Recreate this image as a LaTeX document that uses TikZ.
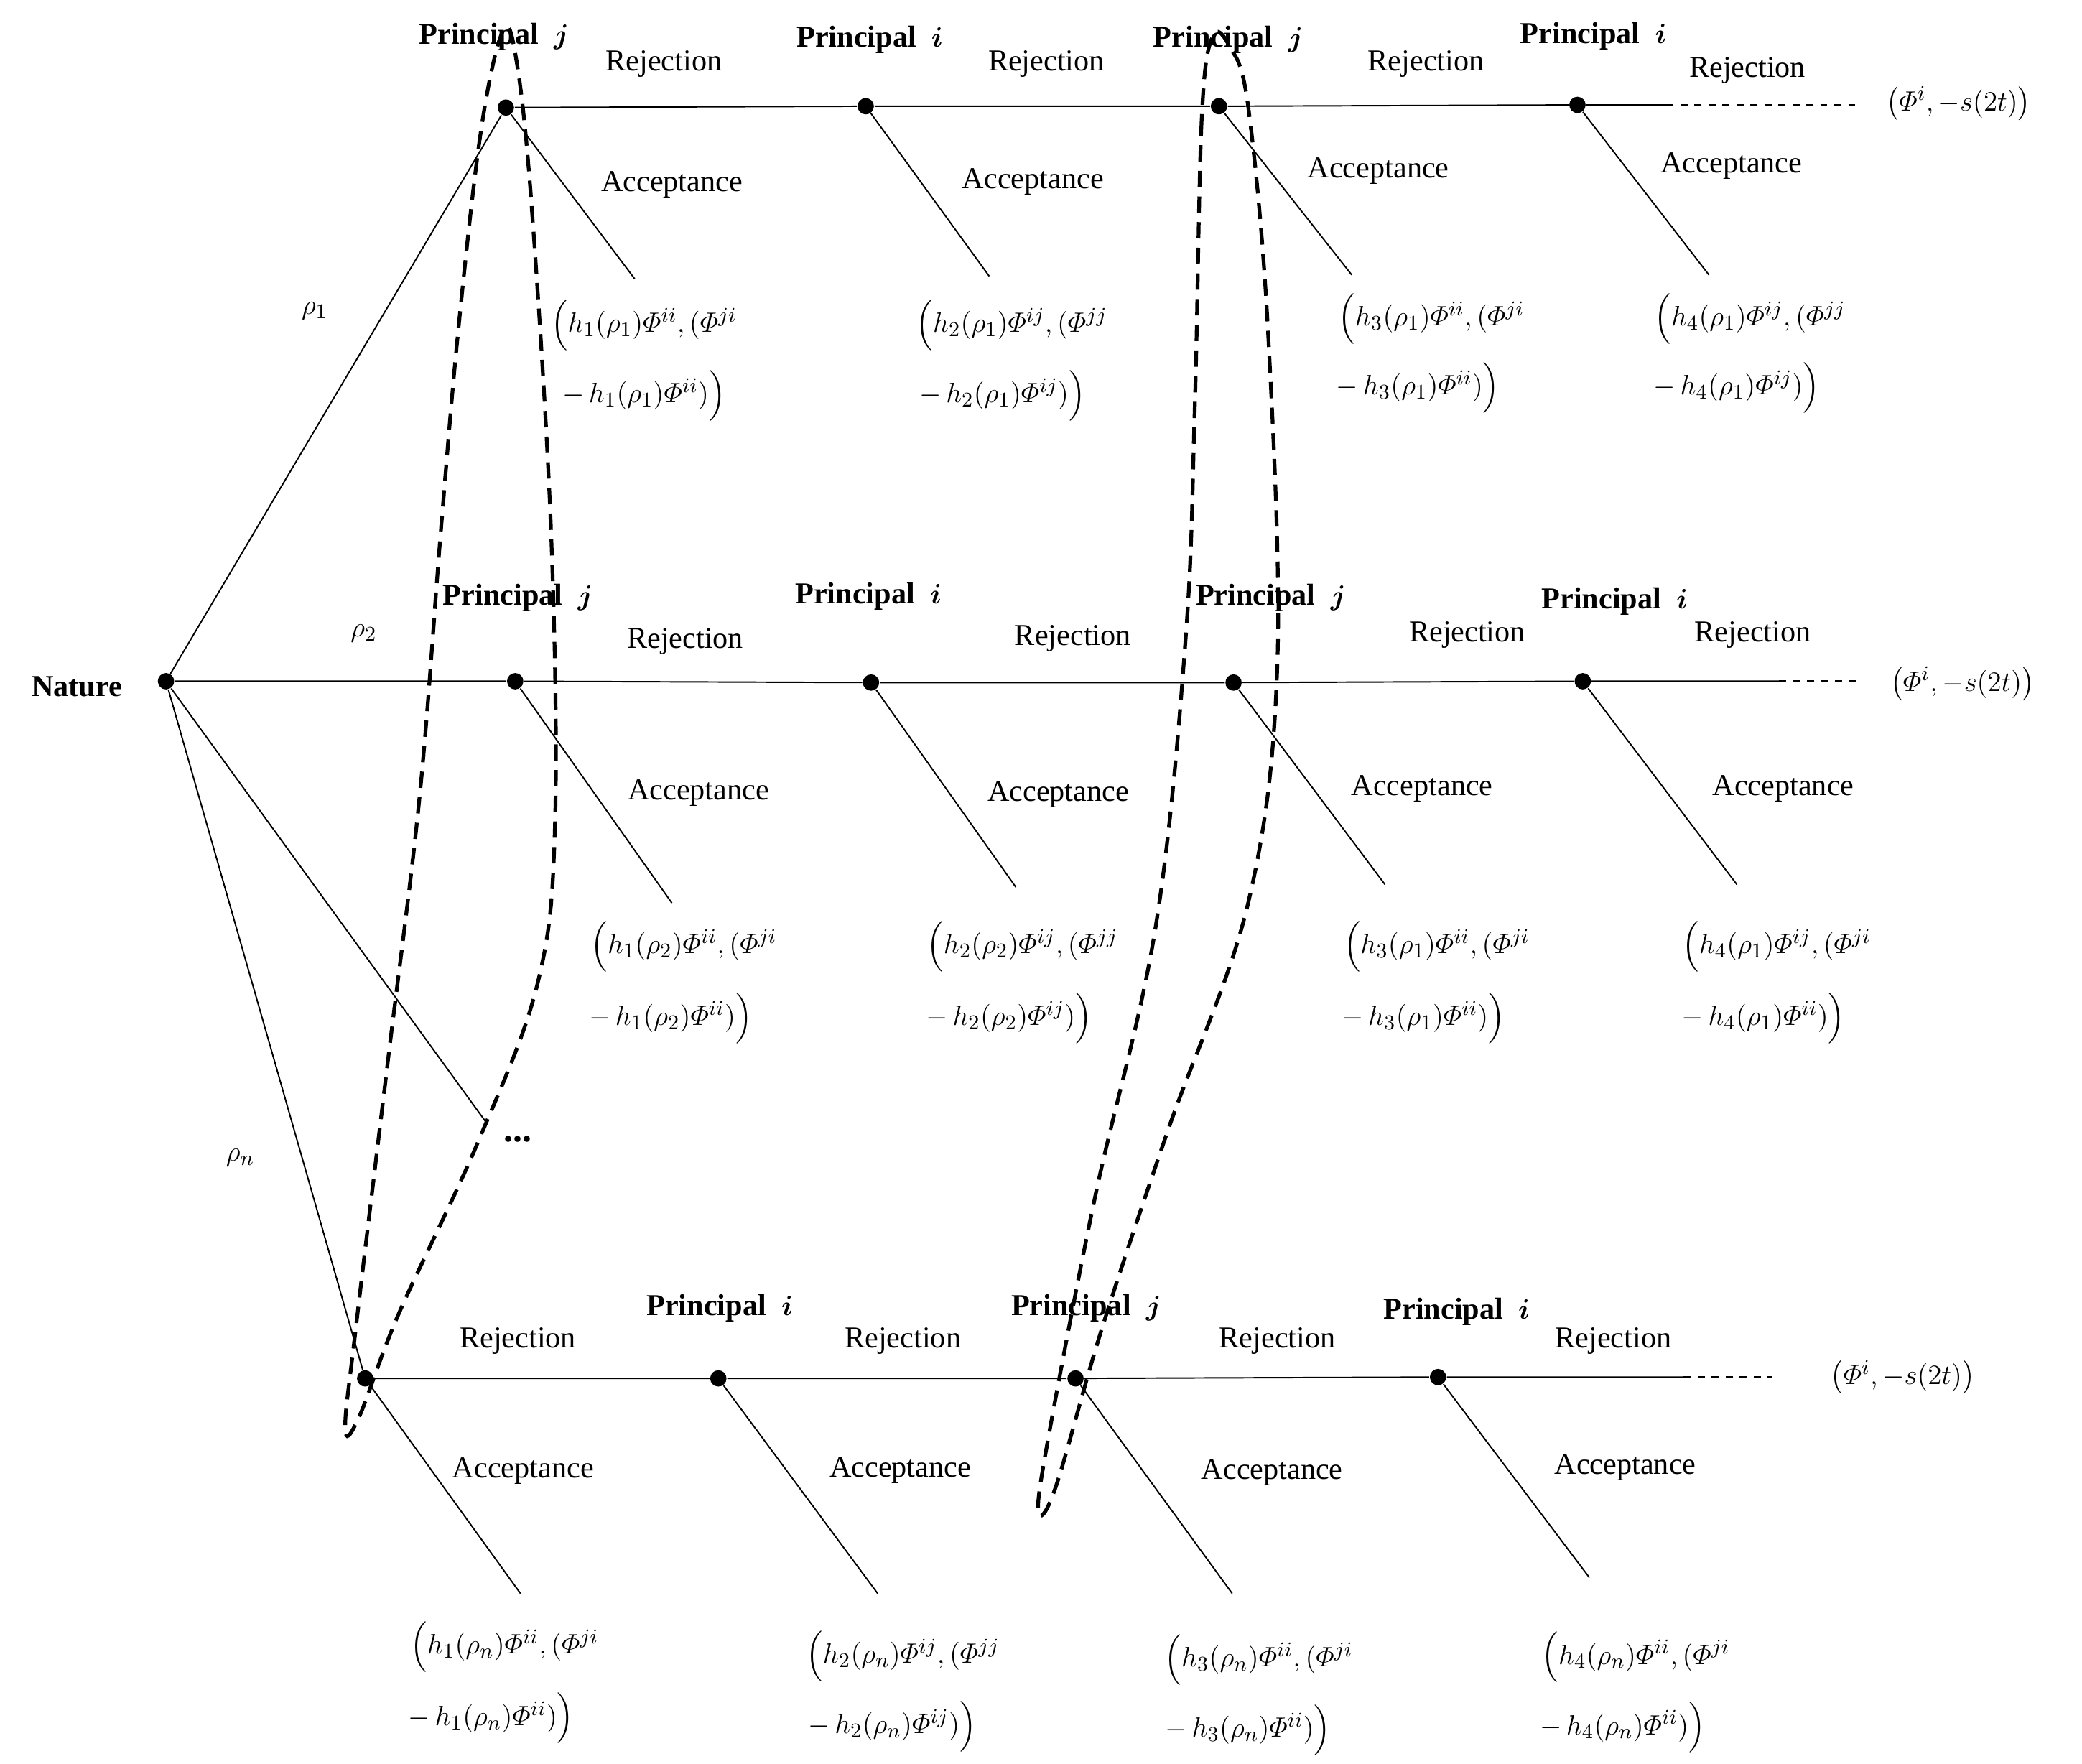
\documentclass[tikz,border=0pt]{standalone}
\usepackage{amsmath,bm}
\usepackage{fontspec}
\setmainfont{Liberation Serif}
\begin{document}
\begin{tikzpicture}[x=0.02cm,y=-0.02cm,line width=0.6pt,
  dot/.style={circle,fill=black,inner sep=0pt,minimum size=7pt},
  lab/.style={font=\fontsize{13}{15}\selectfont},
  pl/.style={font=\fontsize{13}{15}\selectfont\bfseries},
  pay/.style={font=\fontsize{13}{15}\selectfont},
  info/.style={line width=1.6pt,dash pattern=on 7pt off 4pt}]
\useasboundingbox (0,0) rectangle (1568,1328);
\newcommand{\PrJ}{Principal\ \ $\bm{j}$}
\newcommand{\PrI}{Principal\ \ $\bm{i}$}
\newcommand{\F}{\varPhi}
% Nature
\node[dot] (N) at (125,513) {};
\node[pl] at (58,517) {Nature};
% Row 1
\node[dot] (a1) at (381,81) {};
\node[dot] (a2) at (652,80) {};
\node[dot] (a3) at (918,80) {};
\node[dot] (a4) at (1188,79) {};
\coordinate (a5) at (1255,79); \coordinate (a6) at (1400,79);
\draw (N) -- (a1) -- (a2) -- (a3) -- (a4) -- (a5);
\draw[dashed] (a5) -- (a6);
\node[lab] at (237,234) {$\rho_1$};
\coordinate (e11) at (478,210); \coordinate (e12) at (745,208);
\coordinate (e13) at (1018,207); \coordinate (e14) at (1287,207);
\draw (a1)--(e11) (a2)--(e12) (a3)--(e13) (a4)--(e14);
\node[pl] at (372,28) {\PrJ}; \node[lab] at (500,48) {Rejection}; \node[lab] at (506,139) {Acceptance};
\node[pl] at (655,30) {\PrI}; \node[lab] at (788,48) {Rejection}; \node[lab] at (778,137) {Acceptance};
\node[pl] at (925,30) {\PrJ}; \node[lab] at (1074,48) {Rejection}; \node[lab] at (1038,129) {Acceptance};
\node[pl] at (1200,27) {\PrI}; \node[lab] at (1316,53) {Rejection}; \node[lab] at (1304,125) {Acceptance};
\node[pay] at (1475,78) {$\bigl(\F^i,-s(2t)\bigr)$};
\node[pay] at (485,245) {$\Bigl(h_1(\rho_1)\F^{ii},(\F^{ji}$};
\node[pay] at (485,298) {$-\,h_1(\rho_1)\F^{ii})\Bigr)$};
\node[pay] at (762,245) {$\Bigl(h_2(\rho_1)\F^{ij},(\F^{jj}$};
\node[pay] at (755,298) {$-\,h_2(\rho_1)\F^{ij})\Bigr)$};
\node[pay] at (1078,240) {$\Bigl(h_3(\rho_1)\F^{ii},(\F^{ji}$};
\node[pay] at (1068,292) {$-\,h_3(\rho_1)\F^{ii})\Bigr)$};
\node[pay] at (1318,240) {$\Bigl(h_4(\rho_1)\F^{ij},(\F^{jj}$};
\node[pay] at (1308,292) {$-\,h_4(\rho_1)\F^{ij})\Bigr)$};
% Row 2
\node[dot] (b1) at (388,513) {};
\node[dot] (b2) at (656,514) {};
\node[dot] (b3) at (929,514) {};
\node[dot] (b4) at (1192,513) {};
\coordinate (b5) at (1340,513); \coordinate (b6) at (1400,513);
\draw (N) -- (b1) -- (b2) -- (b3) -- (b4) -- (b5);
\draw[dashed] (b5) -- (b6);
\node[lab] at (274,477) {$\rho_2$};
\coordinate (e21) at (506,680); \coordinate (e22) at (765,668);
\coordinate (e23) at (1043,666); \coordinate (e24) at (1308,666);
\draw (b1)--(e21) (b2)--(e22) (b3)--(e23) (b4)--(e24);
\node[pl] at (390,450) {\PrJ}; \node[lab] at (516,483) {Rejection}; \node[lab] at (526,597) {Acceptance};
\node[pl] at (654,449) {\PrI}; \node[lab] at (808,481) {Rejection}; \node[lab] at (797,598) {Acceptance};
\node[pl] at (957,450) {\PrJ}; \node[lab] at (1105,478) {Rejection}; \node[lab] at (1071,594) {Acceptance};
\node[pl] at (1216,453) {\PrI}; \node[lab] at (1320,478) {Rejection}; \node[lab] at (1343,594) {Acceptance};
\node[pay] at (1478,515) {$\bigl(\F^i,-s(2t)\bigr)$};
\node[pay] at (515,713) {$\Bigl(h_1(\rho_2)\F^{ii},(\F^{ji}$};
\node[pay] at (505,767) {$-\,h_1(\rho_2)\F^{ii})\Bigr)$};
\node[pay] at (770,713) {$\Bigl(h_2(\rho_2)\F^{ij},(\F^{jj}$};
\node[pay] at (760,767) {$-\,h_2(\rho_2)\F^{ij})\Bigr)$};
\node[pay] at (1082,713) {$\Bigl(h_3(\rho_1)\F^{ii},(\F^{ji}$};
\node[pay] at (1072,767) {$-\,h_3(\rho_1)\F^{ii})\Bigr)$};
\node[pay] at (1338,713) {$\Bigl(h_4(\rho_1)\F^{ij},(\F^{ji}$};
\node[pay] at (1328,767) {$-\,h_4(\rho_1)\F^{ii})\Bigr)$};
% dots branch
\coordinate (d) at (366,845);
\draw (N) -- (d);
\node[font=\bfseries\fontsize{16}{16}\selectfont] at (390,858) {...};
% Row 3
\node[lab] at (181,872) {$\rho_n$};
\node[dot] (c1) at (275,1038) {};
\node[dot] (c2) at (541,1038) {};
\node[dot] (c3) at (810,1038) {};
\node[dot] (c4) at (1083,1037) {};
\coordinate (c5) at (1268,1037); \coordinate (c6) at (1335,1037);
\draw (N) -- (c1) -- (c2) -- (c3) -- (c4) -- (c5);
\draw[dashed] (c5) -- (c6);
\coordinate (e31) at (392,1200); \coordinate (e32) at (661,1200);
\coordinate (e33) at (928,1200); \coordinate (e34) at (1197,1188);
\draw (c1)--(e31) (c2)--(e32) (c3)--(e33) (c4)--(e34);
\node[lab] at (390,1010) {Rejection}; \node[lab] at (394,1108) {Acceptance};
\node[pl] at (542,985) {\PrI}; \node[lab] at (680,1010) {Rejection}; \node[lab] at (678,1107) {Acceptance};
\node[pl] at (818,985) {\PrJ}; \node[lab] at (962,1010) {Rejection}; \node[lab] at (958,1109) {Acceptance};
\node[pl] at (1097,988) {\PrI}; \node[lab] at (1215,1010) {Rejection}; \node[lab] at (1224,1105) {Acceptance};
\node[pay] at (1433,1037) {$\bigl(\F^i,-s(2t)\bigr)$};
\node[pay] at (380,1240) {$\Bigl(h_1(\rho_n)\F^{ii},(\F^{ji}$};
\node[pay] at (370,1294) {$-\,h_1(\rho_n)\F^{ii})\Bigr)$};
\node[pay] at (680,1247) {$\Bigl(h_2(\rho_n)\F^{ij},(\F^{jj}$};
\node[pay] at (672,1300) {$-\,h_2(\rho_n)\F^{ij})\Bigr)$};
\node[pay] at (948,1250) {$\Bigl(h_3(\rho_n)\F^{ii},(\F^{ji}$};
\node[pay] at (940,1303) {$-\,h_3(\rho_n)\F^{ii})\Bigr)$};
\node[pay] at (1232,1248) {$\Bigl(h_4(\rho_n)\F^{ii},(\F^{ji}$};
\node[pay] at (1222,1301) {$-\,h_4(\rho_n)\F^{ii})\Bigr)$};
% information sets
\draw[info] plot[smooth cycle,tension=0.6] coordinates {(378,25)(362,100)(345,250)(332,400)(316,600)(292,800)(268,1000)(260,1075)(270,1068)(300,990)(360,860)(405,740)(418,620)(415,400)(400,150)(388,40)};
\draw[info] plot[smooth cycle,tension=0.6] coordinates {(913,28)(905,90)(900,300)(893,480)(870,700)(825,900)(790,1080)(782,1138)(795,1120)(830,1000)(880,850)(940,680)(962,500)(955,250)(940,80)(926,35)};
\end{tikzpicture}
\end{document}
